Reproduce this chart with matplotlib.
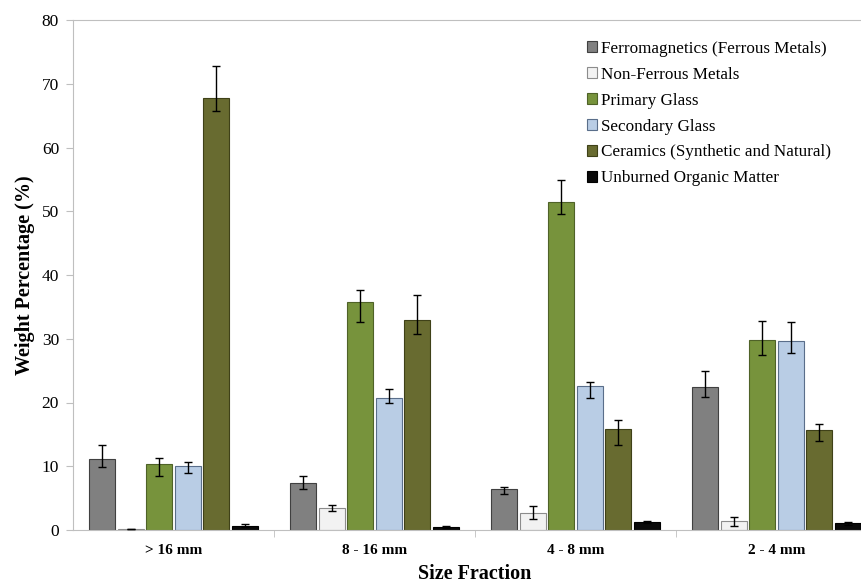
import numpy as np
import matplotlib
matplotlib.use('Agg')
import matplotlib.pyplot as plt

plt.rcParams['font.family'] = ['Liberation Serif', 'DejaVu Serif']

fractions = ['> 16 mm', '8 - 16 mm', '4 - 8 mm', '2 - 4 mm']
components = ['Ferromagnetics (Ferrous Metals)', 'Non-Ferrous Metals', 'Primary Glass',
              'Secondary Glass', 'Ceramics (Synthetic and Natural)', 'Unburned Organic Matter']

ferro = [11.2, 7.3, 6.4, 22.5]
ferro_lo = [1.3, 0.9, 0.7, 1.7]
ferro_hi = [2.1, 1.2, 0.4, 2.5]
nonferrous = [0.1, 3.4, 2.6, 1.4]
nonferrous_lo = [0.0, 0.4, 0.9, 0.7]
nonferrous_hi = [0.0, 0.5, 1.1, 0.6]
primary = [10.35, 35.7, 51.5, 29.75]
primary_lo = [1.95, 3.1, 2.0, 2.35]
primary_hi = [0.95, 1.9, 3.4, 3.05]
secondary = [10.0, 20.7, 22.6, 29.6]
secondary_lo = [1.1, 0.7, 1.9, 1.8]
secondary_hi = [0.7, 1.4, 0.6, 3.0]
ceramics = [67.8, 32.9, 15.8, 15.7]
ceramics_lo = [2.0, 2.1, 2.4, 1.8]
ceramics_hi = [5.0, 4.0, 1.5, 1.0]
organic = [0.7, 0.4, 1.3, 1.05]
organic_lo = [0.2, 0.1, 0.2, 0.2]
organic_hi = [0.3, 0.2, 0.1, 0.2]

series = [(ferro, ferro_lo, ferro_hi), (nonferrous, nonferrous_lo, nonferrous_hi),
          (primary, primary_lo, primary_hi), (secondary, secondary_lo, secondary_hi),
          (ceramics, ceramics_lo, ceramics_hi), (organic, organic_lo, organic_hi)]
faces = ['#808080', '#f2f2f2', '#77933c', '#b9cde5', '#686b30', '#0a0a0a']
edges = ['#404040', '#8c8c8c', '#4f6228', '#5a6e8a', '#3f4118', '#000000']

fig = plt.figure(figsize=(8.62, 5.84), dpi=100)
ax = fig.add_axes([73 / 862, 54 / 584, 804 / 862, 510 / 584])

x = np.arange(len(fractions))
pitch = 0.142
width = 0.13
for i, (vals, lo, hi) in enumerate(series):
    pos = x + (i - 2.5) * pitch
    ax.bar(pos, vals, width, color=faces[i], edgecolor=edges[i], linewidth=0.8,
           label=components[i], zorder=2)
    ax.errorbar(pos, vals, yerr=[lo, hi], fmt='none', ecolor='black',
                elinewidth=1.0, capsize=3, capthick=1.0, zorder=3)

ax.set_xlim(-0.5, 3.5)
ax.set_ylim(0, 80)
ax.set_yticks(range(0, 81, 10))
ax.set_xticks(x)
ax.set_xticklabels(fractions, fontsize=11, fontweight='bold')
ax.set_xticks(np.arange(0.5, 3.5, 1.0), minor=True)
ax.tick_params(axis='x', which='major', length=0, pad=10)
ax.tick_params(axis='x', which='minor', length=5, color='#bfbfbf', direction='out')
ax.tick_params(axis='y', labelsize=12.5, length=5, color='#bfbfbf', direction='out', pad=5)

for side in ['left', 'bottom', 'top']:
    ax.spines[side].set_color('#bfbfbf')
ax.spines['right'].set_visible(False)

ax.set_ylabel('Weight Percentage (%)', fontsize=14.5, fontweight='bold', labelpad=5)
ax.set_xlabel('Size Fraction', fontsize=14.5, fontweight='bold', labelpad=5)

fig.legend(loc='upper left', bbox_to_anchor=(580 / 862, 1 - 34 / 584), frameon=False,
           fontsize=12.3, handlelength=0.6, handleheight=0.6, handletextpad=0.25,
           labelspacing=0.58, borderaxespad=0)

fig.savefig('out.png', dpi=100)
